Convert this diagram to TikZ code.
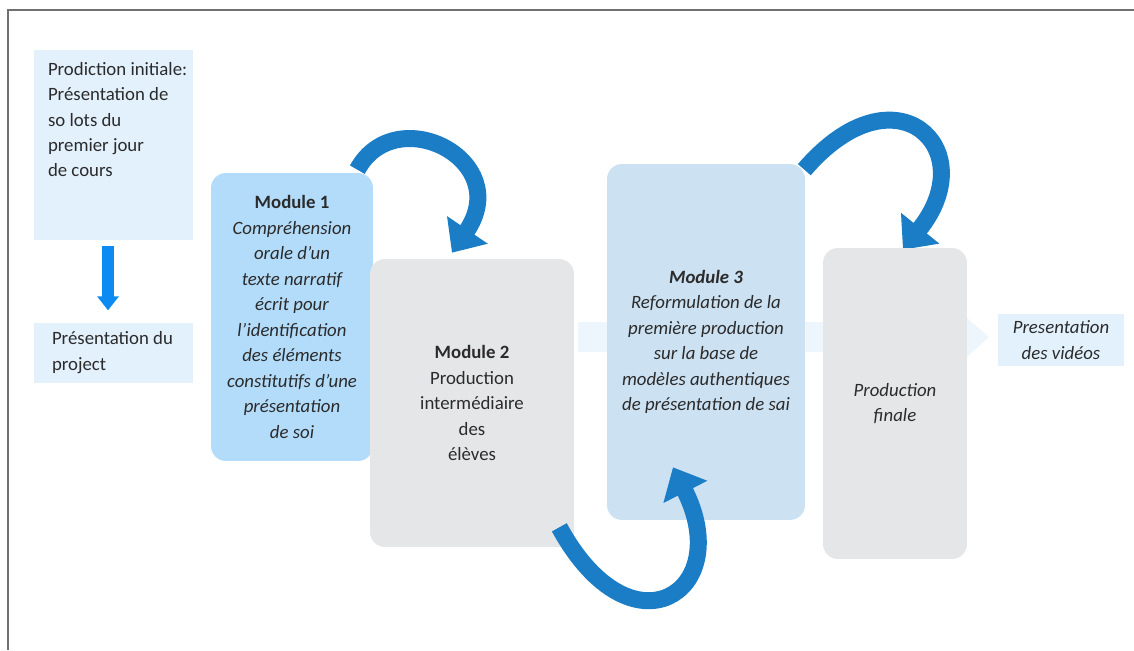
\documentclass[tikz,border=0pt]{standalone}
\usepackage{fontspec}
\setmainfont{Carlito}
\usetikzlibrary{positioning,arrows.meta}
\definecolor{paleblue}{HTML}{E3F1FD}
\definecolor{modblue}{HTML}{B3DCFB}
\definecolor{modgrey}{HTML}{E5E6E8}
\definecolor{modsteel}{HTML}{CCE1F2}
\definecolor{turnblue}{HTML}{1A7DC6}
\definecolor{downblue}{HTML}{0D8BF2}
\definecolor{bandblue}{HTML}{EEF6FD}
\definecolor{ink}{HTML}{2B2B2B}
\definecolor{framegrey}{HTML}{707070}
\pgfdeclarelayer{front}
\pgfsetlayers{main,front}

\begin{document}
\fontsize{10.7}{14.5}\selectfont
\begin{tikzpicture}[x=0.02cm, y=-0.02cm,
        every node/.style={text=ink},
        infobox/.style={fill=paleblue, inner sep=0pt},
        modbox/.style={rounded corners=0.3cm, align=center, inner sep=0pt},
        downarrow/.style={downblue, line width=0.25cm, -{Triangle[width=0.42cm,length=0.28cm]}},
        bigturn/.style={turnblue, line width=0.34cm, -{Triangle[width=0.95cm,length=0.55cm]}},
        flowband/.style={fill=bandblue}]
        \useasboundingbox (0,0) rectangle (1134,650);
        \draw[framegrey, line width=0.6pt] (8,650) |- (1134,10);
        \fill[flowband] (578,322) -- (967,322) -- (967,318) -- (989,337) -- (967,357) -- (967,352) -- (578,352) -- cycle;

        \node (init) [infobox, minimum width=3.18cm, minimum height=3.8cm,
            label={[anchor=north west, align=left, inner sep=0pt, xshift=0.28cm, yshift=-0.24cm]north west:{Prodiction initiale:\\Présentation de\\so lots du\\premier jour\\de cours}}] at (113.5,145) {};
        \node (proj) [infobox, below=1.64cm of init, minimum height=1.2cm, text width=2.46cm, inner xsep=0.36cm, align=flush left] {Présentation du\\project};
        \draw[downarrow] ([xshift=-0.11cm, yshift=-0.12cm]init.south) -- ([xshift=-0.11cm, yshift=0.24cm]proj.north);

        \node (m1) [modbox, fill=modblue, minimum width=3.24cm, minimum height=5.76cm, font=\itshape] at (292,317)
            {\textup{\textbf{Module 1}}\\Compréhension\\orale d’un\\texte narratif\\écrit pour\\l’identification\\des éléments\\constitutifs d’une\\présentation\\de soi};
        \node (m2) [modbox, fill=modgrey, minimum width=4.08cm, minimum height=5.76cm] at (472,403)
            {\textbf{Module 2}\\Production\\intermédiaire\\des\\élèves};
        \node (m3) [modbox, fill=modsteel, minimum width=3.96cm, minimum height=7.12cm, font=\itshape] at (706,342)
            {\textbf{Module 3}\\Reformulation de la\\première production\\sur la base de\\modèles authentiques\\de présentation de sai};
        \begin{pgfonlayer}{front}
            \node (final) [modbox, fill=modgrey, minimum width=2.88cm, minimum height=6.22cm, font=\itshape] at (895,403.5) {Production\\finale};
            \node (pres) [infobox, minimum width=2.52cm, minimum height=1.04cm, align=center, font=\itshape] at (1061,340) {Presentation\\des vidéos};
        \end{pgfonlayer}

        \draw[bigturn] ([shift={(-16,-3)}]m1.north east) .. controls +(38,-70) and +(63,-93) .. ([shift={(-20,-6)}]m2.north);
        \draw[bigturn] ([shift={(-15,-20)}]m2.south east) .. controls +(72,132) and +(63,125) .. ([shift={(-33,-53)}]m3.south);
        \draw[bigturn] ([shift={(-1,6)}]m3.north east) .. controls +(91,-106) and +(81,-101) .. ([shift={(8,2)}]final.north);
    \end{tikzpicture}
\end{document}
